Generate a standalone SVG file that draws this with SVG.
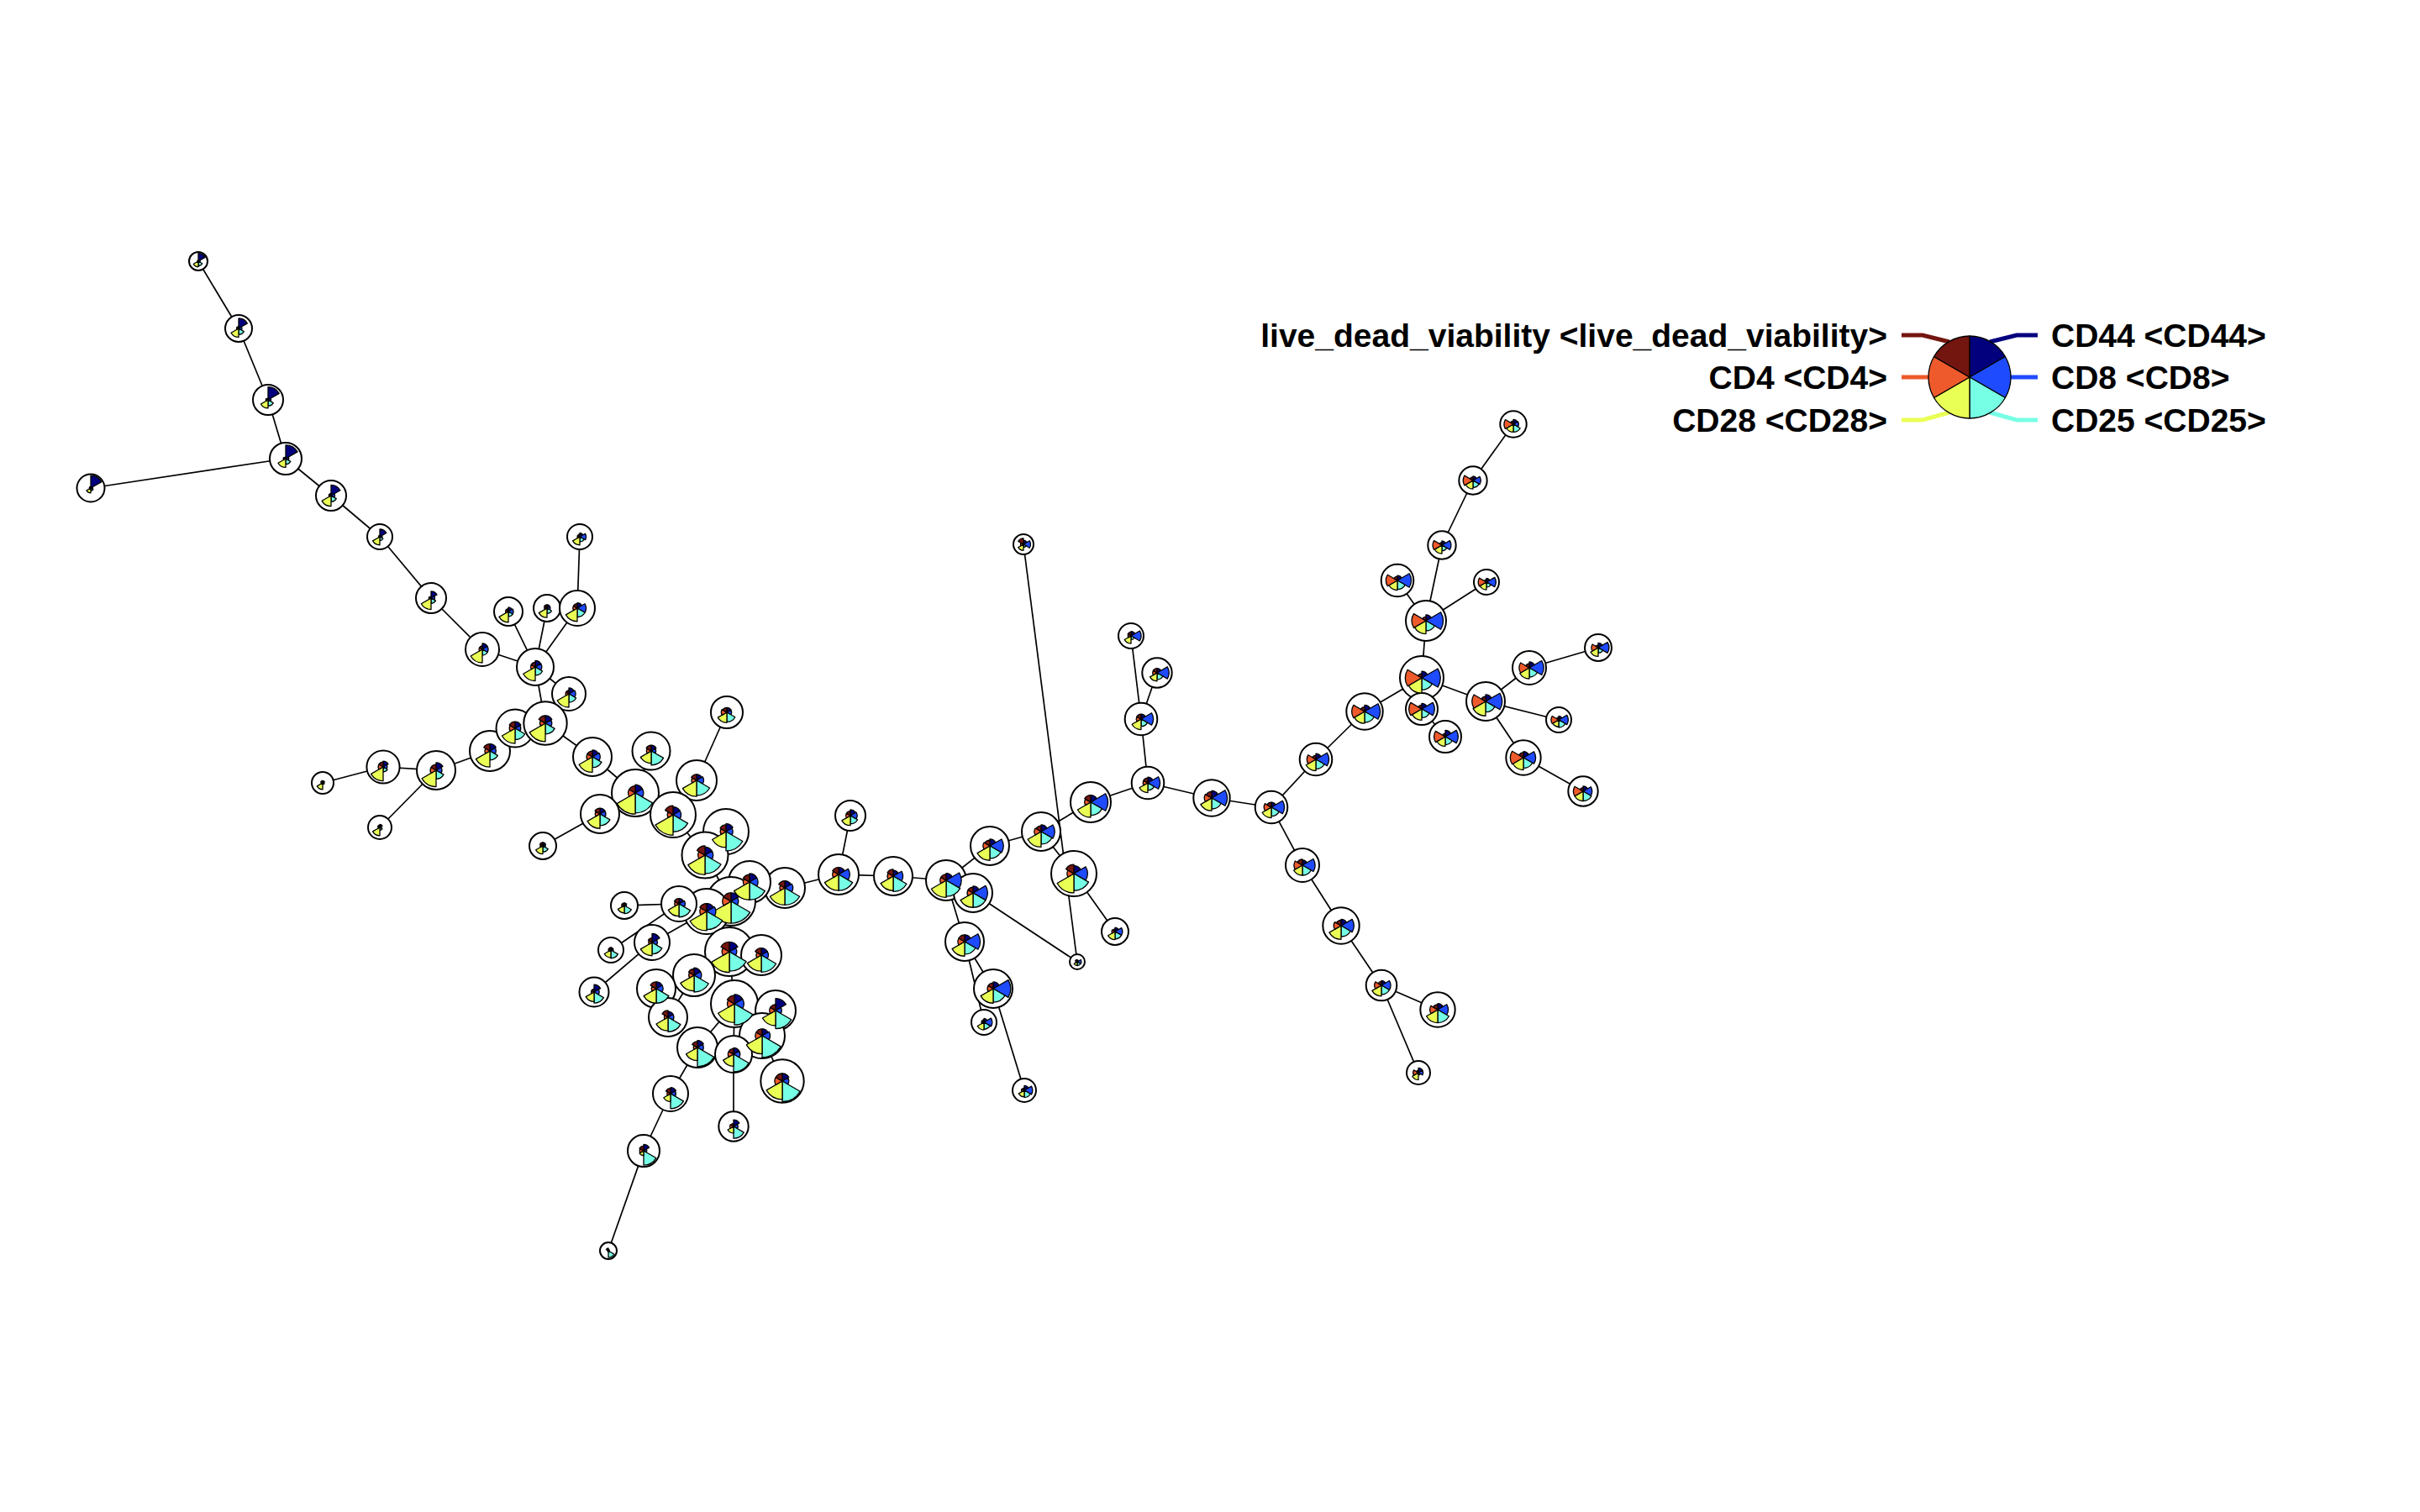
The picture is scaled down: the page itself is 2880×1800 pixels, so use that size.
<svg xmlns="http://www.w3.org/2000/svg" width="2880" height="1800" viewBox="0 0 2880 1800">
<style>
.edge line{stroke:#000;stroke-width:1.7;fill:none}
.bg circle{fill:#fff;stroke:#000;stroke-width:2}
.wd{stroke:#000;stroke-width:1.3;vector-effect:non-scaling-stroke;stroke-linejoin:round}
.c0{fill:#03007E}.c1{fill:#1F4BFF}.c2{fill:#77FFE5}.c3{fill:#EAFF55}.c4{fill:#EE5A2B}.c5{fill:#741610}
.lg{fill:none;stroke-width:5}
.lab{font-family:"Liberation Sans",Arial,sans-serif;font-weight:bold;font-size:39px;fill:#000}
</style>
<defs>
<path id="w0" class="wd c0" d="M0,0 L0,-100 A100,100 0 0 1 86.603,-50 Z"/>
<path id="w1" class="wd c1" d="M0,0 L86.603,-50 A100,100 0 0 1 86.603,50 Z"/>
<path id="w2" class="wd c2" d="M0,0 L86.603,50 A100,100 0 0 1 0,100 Z"/>
<path id="w3" class="wd c3" d="M0,0 L0,100 A100,100 0 0 1 -86.603,50 Z"/>
<path id="w4" class="wd c4" d="M0,0 L-86.603,50 A100,100 0 0 1 -86.603,-50 Z"/>
<path id="w5" class="wd c5" d="M0,0 L-86.603,-50 A100,100 0 0 1 0,-100 Z"/>
</defs>
<rect width="2880" height="1800" fill="#fff"/>
<g id="edges" class="edge">
<line x1="236" y1="311" x2="284" y2="391"/><line x1="284" y1="391" x2="319" y2="476"/><line x1="319" y1="476" x2="340" y2="546"/><line x1="340" y1="546" x2="108" y2="581"/><line x1="340" y1="546" x2="394" y2="590"/><line x1="394" y1="590" x2="452" y2="639"/><line x1="452" y1="639" x2="513" y2="712"/><line x1="513" y1="712" x2="574" y2="773"/><line x1="574" y1="773" x2="637" y2="794"/><line x1="637" y1="794" x2="605" y2="728"/><line x1="637" y1="794" x2="651" y2="724"/><line x1="637" y1="794" x2="687" y2="724"/><line x1="687" y1="724" x2="690" y2="639"/><line x1="637" y1="794" x2="677" y2="826"/><line x1="637" y1="794" x2="649" y2="861"/>
<line x1="384" y1="932" x2="456" y2="913"/><line x1="456" y1="913" x2="519" y2="917"/><line x1="519" y1="917" x2="452" y2="985"/><line x1="519" y1="917" x2="583" y2="894"/><line x1="583" y1="894" x2="613" y2="867"/><line x1="613" y1="867" x2="649" y2="861"/><line x1="649" y1="861" x2="705" y2="901"/><line x1="705" y1="901" x2="756" y2="944"/><line x1="775" y1="894" x2="756" y2="944"/><line x1="756" y1="944" x2="714" y2="969"/><line x1="714" y1="969" x2="646" y2="1007"/><line x1="756" y1="944" x2="801" y2="970"/><line x1="865" y1="848" x2="829" y2="929"/><line x1="829" y1="929" x2="801" y2="970"/><line x1="801" y1="970" x2="839" y2="1018"/><line x1="864" y1="990" x2="839" y2="1018"/><line x1="839" y1="1018" x2="870" y2="1073"/>
<line x1="870" y1="1073" x2="841" y2="1085"/><line x1="870" y1="1073" x2="892" y2="1050"/><line x1="892" y1="1050" x2="934" y2="1057"/><line x1="934" y1="1057" x2="998" y2="1041"/><line x1="1012" y1="971" x2="998" y2="1041"/><line x1="998" y1="1041" x2="1063" y2="1043"/><line x1="841" y1="1085" x2="808" y2="1076"/><line x1="808" y1="1076" x2="743" y2="1078"/><line x1="808" y1="1076" x2="727" y2="1131"/><line x1="841" y1="1085" x2="776" y2="1122"/><line x1="776" y1="1122" x2="707" y2="1181"/><line x1="870" y1="1073" x2="868" y2="1133"/><line x1="868" y1="1133" x2="906" y2="1137"/><line x1="868" y1="1133" x2="826" y2="1161"/><line x1="826" y1="1161" x2="795" y2="1211"/><line x1="781" y1="1177" x2="795" y2="1211"/><line x1="868" y1="1133" x2="874" y2="1195"/><line x1="874" y1="1195" x2="923" y2="1203"/><line x1="923" y1="1203" x2="907" y2="1233"/><line x1="907" y1="1233" x2="931" y2="1287"/><line x1="874" y1="1195" x2="873" y2="1255"/><line x1="873" y1="1255" x2="873" y2="1341"/><line x1="874" y1="1195" x2="830" y2="1247"/><line x1="830" y1="1247" x2="798" y2="1302"/><line x1="798" y1="1302" x2="766" y2="1370"/><line x1="766" y1="1370" x2="724" y2="1489"/>
<line x1="1063" y1="1043" x2="1126" y2="1048"/><line x1="1126" y1="1048" x2="1178" y2="1007"/><line x1="1178" y1="1007" x2="1239" y2="990"/><line x1="1239" y1="990" x2="1298" y2="955"/><line x1="1298" y1="955" x2="1366" y2="932"/><line x1="1366" y1="932" x2="1358" y2="856"/><line x1="1358" y1="856" x2="1346" y2="757"/><line x1="1358" y1="856" x2="1377" y2="801"/><line x1="1366" y1="932" x2="1442" y2="950"/><line x1="1442" y1="950" x2="1513" y2="961"/><line x1="1513" y1="961" x2="1566" y2="904"/><line x1="1513" y1="961" x2="1550" y2="1030"/><line x1="1239" y1="990" x2="1278" y2="1040"/><line x1="1278" y1="1040" x2="1327" y2="1109"/><line x1="1218" y1="648" x2="1282" y2="1145"/><line x1="1158" y1="1063" x2="1282" y2="1145"/><line x1="1126" y1="1048" x2="1158" y2="1063"/><line x1="1126" y1="1048" x2="1148" y2="1121"/><line x1="1148" y1="1121" x2="1182" y2="1177"/><line x1="1148" y1="1121" x2="1171" y2="1217"/><line x1="1182" y1="1177" x2="1219" y2="1298"/>
<line x1="1566" y1="904" x2="1624" y2="847"/><line x1="1624" y1="847" x2="1692" y2="807"/><line x1="1692" y1="807" x2="1697" y2="739"/><line x1="1697" y1="739" x2="1716" y2="649"/><line x1="1697" y1="739" x2="1663" y2="691"/><line x1="1697" y1="739" x2="1769" y2="693"/><line x1="1716" y1="649" x2="1753" y2="572"/><line x1="1753" y1="572" x2="1801" y2="505"/><line x1="1692" y1="807" x2="1692" y2="844"/><line x1="1692" y1="844" x2="1720" y2="877"/><line x1="1692" y1="807" x2="1768" y2="835"/><line x1="1768" y1="835" x2="1820" y2="795"/><line x1="1820" y1="795" x2="1902" y2="771"/><line x1="1768" y1="835" x2="1855" y2="857"/><line x1="1768" y1="835" x2="1813" y2="902"/><line x1="1813" y1="902" x2="1884" y2="942"/>
<line x1="1550" y1="1030" x2="1596" y2="1102"/><line x1="1596" y1="1102" x2="1644" y2="1173"/><line x1="1644" y1="1173" x2="1711" y2="1202"/><line x1="1644" y1="1173" x2="1688" y2="1277"/>
</g>
<g id="node-backgrounds" class="bg">
<circle cx="236" cy="311" r="11"/><circle cx="284" cy="391" r="16"/><circle cx="319" cy="476" r="18"/><circle cx="340" cy="546" r="19"/><circle cx="108" cy="581" r="16.5"/><circle cx="394" cy="590" r="18"/><circle cx="452" cy="639" r="15"/><circle cx="513" cy="712" r="18"/><circle cx="574" cy="773" r="20"/><circle cx="637" cy="794" r="22"/><circle cx="605" cy="728" r="17"/><circle cx="651" cy="724" r="16"/><circle cx="687" cy="724" r="21"/><circle cx="690" cy="639" r="15"/><circle cx="677" cy="826" r="20"/>
<circle cx="384" cy="932" r="13"/><circle cx="456" cy="913" r="19.6"/><circle cx="452" cy="985" r="14"/><circle cx="519" cy="917" r="23"/><circle cx="583" cy="894" r="24"/><circle cx="613" cy="867" r="22.5"/><circle cx="649" cy="861" r="25.7"/><circle cx="705" cy="901" r="23"/><circle cx="775" cy="894" r="22.5"/><circle cx="865" cy="848" r="19"/><circle cx="829" cy="929" r="24"/><circle cx="756" cy="944" r="28"/><circle cx="714" cy="969" r="23"/><circle cx="801" cy="970" r="27"/><circle cx="646" cy="1007" r="16"/><circle cx="864" cy="990" r="27"/><circle cx="839" cy="1018" r="27.5"/>
<circle cx="1012" cy="971" r="18"/><circle cx="998" cy="1041" r="24"/><circle cx="1063" cy="1043" r="23"/><circle cx="934" cy="1057" r="24"/><circle cx="892" cy="1050" r="25"/><circle cx="870" cy="1073" r="29"/><circle cx="841" cy="1085" r="27"/><circle cx="808" cy="1076" r="21"/><circle cx="743" cy="1078" r="16"/><circle cx="727" cy="1131" r="15"/><circle cx="776" cy="1122" r="21"/><circle cx="707" cy="1181" r="17.5"/><circle cx="868" cy="1133" r="29"/><circle cx="906" cy="1137" r="24"/><circle cx="826" cy="1161" r="25"/><circle cx="781" cy="1177" r="23"/><circle cx="874" cy="1195" r="28"/><circle cx="923" cy="1203" r="24"/><circle cx="795" cy="1211" r="23"/><circle cx="907" cy="1233" r="27"/><circle cx="830" cy="1247" r="24"/><circle cx="873" cy="1255" r="22"/><circle cx="931" cy="1287" r="25.7"/><circle cx="798" cy="1302" r="21"/><circle cx="873" cy="1341" r="17.7"/><circle cx="766" cy="1370" r="19"/><circle cx="724" cy="1489" r="10"/>
<circle cx="1218" cy="648" r="12"/><circle cx="1346" cy="757" r="15"/><circle cx="1377" cy="801" r="17.7"/><circle cx="1358" cy="856" r="19.3"/><circle cx="1366" cy="932" r="19.3"/><circle cx="1442" cy="950" r="21.7"/><circle cx="1513" cy="961" r="19.3"/><circle cx="1550" cy="1030" r="20"/><circle cx="1298" cy="955" r="24"/><circle cx="1239" cy="990" r="23"/><circle cx="1178" cy="1007" r="23"/><circle cx="1126" cy="1048" r="24"/><circle cx="1158" cy="1063" r="23"/><circle cx="1278" cy="1040" r="27"/><circle cx="1327" cy="1109" r="16"/><circle cx="1282" cy="1145" r="9"/><circle cx="1148" cy="1121" r="23"/><circle cx="1182" cy="1177" r="23"/><circle cx="1171" cy="1217" r="15"/><circle cx="1219" cy="1298" r="14"/>
<circle cx="1801" cy="505" r="15.7"/><circle cx="1753" cy="572" r="16.7"/><circle cx="1716" cy="649" r="16.7"/><circle cx="1663" cy="691" r="19.3"/><circle cx="1769" cy="693" r="15"/><circle cx="1697" cy="739" r="24"/><circle cx="1692" cy="807" r="26"/><circle cx="1692" cy="844" r="19"/><circle cx="1720" cy="877" r="19"/><circle cx="1624" cy="847" r="21.7"/><circle cx="1566" cy="904" r="19.3"/><circle cx="1768" cy="835" r="23"/><circle cx="1820" cy="795" r="20"/><circle cx="1902" cy="771" r="16"/><circle cx="1855" cy="857" r="15"/><circle cx="1813" cy="902" r="20.7"/><circle cx="1884" cy="942" r="17.7"/><circle cx="1596" cy="1102" r="21.7"/><circle cx="1644" cy="1173" r="18.3"/><circle cx="1711" cy="1202" r="20.7"/><circle cx="1688" cy="1277" r="14"/>
</g>
<g id="nodes">
<g id="n1" transform="translate(236 311) scale(.11)"><use href="#w0" transform="scale(.85)"/><use href="#w1" transform="scale(.2)"/><use href="#w2" transform="scale(.5)"/><use href="#w3" transform="scale(.6)"/><use href="#w4" transform="scale(.1)"/><use href="#w5" transform="scale(.1)"/></g>
<g id="n2" transform="translate(284 391) scale(.16)"><use href="#w0" transform="scale(.75)"/><use href="#w1" transform="scale(.25)"/><use href="#w2" transform="scale(.45)"/><use href="#w3" transform="scale(.65)"/><use href="#w4" transform="scale(.15)"/><use href="#w5" transform="scale(.15)"/></g>
<g id="n3" transform="translate(319 476) scale(.18)"><use href="#w0" transform="scale(.85)"/><use href="#w1" transform="scale(.2)"/><use href="#w2" transform="scale(.4)"/><use href="#w3" transform="scale(.55)"/><use href="#w4" transform="scale(.15)"/><use href="#w5" transform="scale(.1)"/></g>
<g id="n4" transform="translate(340 546) scale(.19)"><use href="#w0" transform="scale(.85)"/><use href="#w1" transform="scale(.2)"/><use href="#w2" transform="scale(.35)"/><use href="#w3" transform="scale(.55)"/><use href="#w4" transform="scale(.15)"/><use href="#w5" transform="scale(.1)"/></g>
<g id="n5" transform="translate(108 581) scale(.165)"><use href="#w0" transform="scale(.9)"/><use href="#w1" transform="scale(.15)"/><use href="#w2" transform="scale(.2)"/><use href="#w3" transform="scale(.35)"/><use href="#w4" transform="scale(.1)"/><use href="#w5" transform="scale(.1)"/></g>
<g id="n6" transform="translate(394 590) scale(.18)"><use href="#w0" transform="scale(.7)"/><use href="#w1" transform="scale(.25)"/><use href="#w2" transform="scale(.4)"/><use href="#w3" transform="scale(.7)"/><use href="#w4" transform="scale(.15)"/><use href="#w5" transform="scale(.15)"/></g>
<g id="n7" transform="translate(452 639) scale(.15)"><use href="#w0" transform="scale(.6)"/><use href="#w1" transform="scale(.2)"/><use href="#w2" transform="scale(.3)"/><use href="#w3" transform="scale(.65)"/><use href="#w4" transform="scale(.1)"/><use href="#w5" transform="scale(.1)"/></g>
<g id="n8" transform="translate(513 712) scale(.18)"><use href="#w0" transform="scale(.45)"/><use href="#w1" transform="scale(.25)"/><use href="#w2" transform="scale(.35)"/><use href="#w3" transform="scale(.75)"/><use href="#w4" transform="scale(.15)"/><use href="#w5" transform="scale(.1)"/></g>
<g id="n9" transform="translate(574 773) scale(.2)"><use href="#w0" transform="scale(.35)"/><use href="#w1" transform="scale(.35)"/><use href="#w2" transform="scale(.35)"/><use href="#w3" transform="scale(.8)"/><use href="#w4" transform="scale(.2)"/><use href="#w5" transform="scale(.2)"/></g>
<g id="n10" transform="translate(637 794) scale(.22)"><use href="#w0" transform="scale(.35)"/><use href="#w1" transform="scale(.35)"/><use href="#w2" transform="scale(.45)"/><use href="#w3" transform="scale(.75)"/><use href="#w4" transform="scale(.25)"/><use href="#w5" transform="scale(.25)"/></g>
<g id="n11" transform="translate(605 728) scale(.17)"><use href="#w0" transform="scale(.3)"/><use href="#w1" transform="scale(.35)"/><use href="#w2" transform="scale(.35)"/><use href="#w3" transform="scale(.75)"/><use href="#w4" transform="scale(.2)"/><use href="#w5" transform="scale(.2)"/></g>
<g id="n12" transform="translate(651 724) scale(.16)"><use href="#w0" transform="scale(.25)"/><use href="#w1" transform="scale(.25)"/><use href="#w2" transform="scale(.4)"/><use href="#w3" transform="scale(.7)"/><use href="#w4" transform="scale(.2)"/><use href="#w5" transform="scale(.25)"/></g>
<g id="n13" transform="translate(687 724) scale(.21)"><use href="#w0" transform="scale(.3)"/><use href="#w1" transform="scale(.5)"/><use href="#w2" transform="scale(.5)"/><use href="#w3" transform="scale(.75)"/><use href="#w4" transform="scale(.25)"/><use href="#w5" transform="scale(.25)"/></g>
<g id="n14" transform="translate(690 639) scale(.15)"><use href="#w0" transform="scale(.3)"/><use href="#w1" transform="scale(.5)"/><use href="#w2" transform="scale(.4)"/><use href="#w3" transform="scale(.65)"/><use href="#w4" transform="scale(.2)"/><use href="#w5" transform="scale(.2)"/></g>
<g id="n15" transform="translate(677 826) scale(.2)"><use href="#w0" transform="scale(.35)"/><use href="#w1" transform="scale(.4)"/><use href="#w2" transform="scale(.5)"/><use href="#w3" transform="scale(.8)"/><use href="#w4" transform="scale(.2)"/><use href="#w5" transform="scale(.2)"/></g>
<g id="na" transform="translate(384 932) scale(.13)"><use href="#w0" transform="scale(.2)"/><use href="#w1" transform="scale(.15)"/><use href="#w2" transform="scale(.15)"/><use href="#w3" transform="scale(.6)"/><use href="#w4" transform="scale(.15)"/><use href="#w5" transform="scale(.2)"/></g>
<g id="nb" transform="translate(456 913) scale(.196)"><use href="#w0" transform="scale(.35)"/><use href="#w1" transform="scale(.25)"/><use href="#w2" transform="scale(.3)"/><use href="#w3" transform="scale(.85)"/><use href="#w4" transform="scale(.3)"/><use href="#w5" transform="scale(.3)"/></g>
<g id="nc" transform="translate(452 985) scale(.14)"><use href="#w0" transform="scale(.25)"/><use href="#w1" transform="scale(.15)"/><use href="#w2" transform="scale(.25)"/><use href="#w3" transform="scale(.7)"/><use href="#w4" transform="scale(.15)"/><use href="#w5" transform="scale(.2)"/></g>
<g id="nd" transform="translate(519 917) scale(.23)"><use href="#w0" transform="scale(.4)"/><use href="#w1" transform="scale(.3)"/><use href="#w2" transform="scale(.45)"/><use href="#w3" transform="scale(.85)"/><use href="#w4" transform="scale(.3)"/><use href="#w5" transform="scale(.3)"/></g>
<g id="ne" transform="translate(583 894) scale(.24)"><use href="#w0" transform="scale(.35)"/><use href="#w1" transform="scale(.3)"/><use href="#w2" transform="scale(.45)"/><use href="#w3" transform="scale(.8)"/><use href="#w4" transform="scale(.25)"/><use href="#w5" transform="scale(.35)"/></g>
<g id="nf" transform="translate(613 867) scale(.225)"><use href="#w0" transform="scale(.35)"/><use href="#w1" transform="scale(.3)"/><use href="#w2" transform="scale(.6)"/><use href="#w3" transform="scale(.8)"/><use href="#w4" transform="scale(.3)"/><use href="#w5" transform="scale(.35)"/></g>
<g id="ng" transform="translate(649 861) scale(.257)"><use href="#w0" transform="scale(.35)"/><use href="#w1" transform="scale(.3)"/><use href="#w2" transform="scale(.5)"/><use href="#w3" transform="scale(.85)"/><use href="#w4" transform="scale(.25)"/><use href="#w5" transform="scale(.35)"/></g>
<g id="ni" transform="translate(705 901) scale(.23)"><use href="#w0" transform="scale(.35)"/><use href="#w1" transform="scale(.4)"/><use href="#w2" transform="scale(.55)"/><use href="#w3" transform="scale(.8)"/><use href="#w4" transform="scale(.3)"/><use href="#w5" transform="scale(.3)"/></g>
<g id="nj" transform="translate(775 894) scale(.225)"><use href="#w0" transform="scale(.3)"/><use href="#w1" transform="scale(.25)"/><use href="#w2" transform="scale(.75)"/><use href="#w3" transform="scale(.65)"/><use href="#w4" transform="scale(.25)"/><use href="#w5" transform="scale(.3)"/></g>
<g id="nk" transform="translate(865 848) scale(.19)"><use href="#w0" transform="scale(.3)"/><use href="#w1" transform="scale(.3)"/><use href="#w2" transform="scale(.6)"/><use href="#w3" transform="scale(.65)"/><use href="#w4" transform="scale(.35)"/><use href="#w5" transform="scale(.3)"/></g>
<g id="nl" transform="translate(829 929) scale(.24)"><use href="#w0" transform="scale(.3)"/><use href="#w1" transform="scale(.35)"/><use href="#w2" transform="scale(.75)"/><use href="#w3" transform="scale(.8)"/><use href="#w4" transform="scale(.25)"/><use href="#w5" transform="scale(.3)"/></g>
<g id="nm" transform="translate(756 944) scale(.28)"><use href="#w0" transform="scale(.35)"/><use href="#w1" transform="scale(.35)"/><use href="#w2" transform="scale(.85)"/><use href="#w3" transform="scale(.9)"/><use href="#w4" transform="scale(.3)"/><use href="#w5" transform="scale(.3)"/></g>
<g id="nn" transform="translate(714 969) scale(.23)"><use href="#w0" transform="scale(.3)"/><use href="#w1" transform="scale(.3)"/><use href="#w2" transform="scale(.6)"/><use href="#w3" transform="scale(.75)"/><use href="#w4" transform="scale(.25)"/><use href="#w5" transform="scale(.3)"/></g>
<g id="no" transform="translate(801 970) scale(.27)"><use href="#w0" transform="scale(.35)"/><use href="#w1" transform="scale(.35)"/><use href="#w2" transform="scale(.75)"/><use href="#w3" transform="scale(.9)"/><use href="#w4" transform="scale(.25)"/><use href="#w5" transform="scale(.4)"/></g>
<g id="np" transform="translate(646 1007) scale(.16)"><use href="#w0" transform="scale(.25)"/><use href="#w1" transform="scale(.2)"/><use href="#w2" transform="scale(.45)"/><use href="#w3" transform="scale(.6)"/><use href="#w4" transform="scale(.2)"/><use href="#w5" transform="scale(.25)"/></g>
<g id="nq" transform="translate(864 990) scale(.27)"><use href="#w0" transform="scale(.35)"/><use href="#w1" transform="scale(.3)"/><use href="#w2" transform="scale(.85)"/><use href="#w3" transform="scale(.7)"/><use href="#w4" transform="scale(.25)"/><use href="#w5" transform="scale(.3)"/></g>
<g id="nr" transform="translate(839 1018) scale(.275)"><use href="#w0" transform="scale(.35)"/><use href="#w1" transform="scale(.35)"/><use href="#w2" transform="scale(.8)"/><use href="#w3" transform="scale(.85)"/><use href="#w4" transform="scale(.3)"/><use href="#w5" transform="scale(.4)"/></g>
<g id="ns" transform="translate(1012 971) scale(.18)"><use href="#w0" transform="scale(.4)"/><use href="#w1" transform="scale(.45)"/><use href="#w2" transform="scale(.55)"/><use href="#w3" transform="scale(.65)"/><use href="#w4" transform="scale(.3)"/><use href="#w5" transform="scale(.3)"/></g>
<g id="nt" transform="translate(998 1041) scale(.24)"><use href="#w0" transform="scale(.35)"/><use href="#w1" transform="scale(.55)"/><use href="#w2" transform="scale(.8)"/><use href="#w3" transform="scale(.8)"/><use href="#w4" transform="scale(.3)"/><use href="#w5" transform="scale(.35)"/></g>
<g id="nu" transform="translate(1063 1043) scale(.23)"><use href="#w0" transform="scale(.3)"/><use href="#w1" transform="scale(.5)"/><use href="#w2" transform="scale(.8)"/><use href="#w3" transform="scale(.75)"/><use href="#w4" transform="scale(.3)"/><use href="#w5" transform="scale(.35)"/></g>
<g id="nv" transform="translate(934 1057) scale(.24)"><use href="#w0" transform="scale(.35)"/><use href="#w1" transform="scale(.4)"/><use href="#w2" transform="scale(.85)"/><use href="#w3" transform="scale(.85)"/><use href="#w4" transform="scale(.25)"/><use href="#w5" transform="scale(.35)"/></g>
<g id="nw" transform="translate(892 1050) scale(.25)"><use href="#w0" transform="scale(.4)"/><use href="#w1" transform="scale(.4)"/><use href="#w2" transform="scale(.85)"/><use href="#w3" transform="scale(.85)"/><use href="#w4" transform="scale(.3)"/><use href="#w5" transform="scale(.35)"/></g>
<g id="nx" transform="translate(870 1073) scale(.29)"><use href="#w0" transform="scale(.35)"/><use href="#w1" transform="scale(.3)"/><use href="#w2" transform="scale(.9)"/><use href="#w3" transform="scale(.9)"/><use href="#w4" transform="scale(.35)"/><use href="#w5" transform="scale(.35)"/></g>
<g id="ny" transform="translate(841 1085) scale(.27)"><use href="#w0" transform="scale(.35)"/><use href="#w1" transform="scale(.4)"/><use href="#w2" transform="scale(.8)"/><use href="#w3" transform="scale(.85)"/><use href="#w4" transform="scale(.3)"/><use href="#w5" transform="scale(.35)"/></g>
<g id="nz" transform="translate(808 1076) scale(.21)"><use href="#w0" transform="scale(.3)"/><use href="#w1" transform="scale(.35)"/><use href="#w2" transform="scale(.75)"/><use href="#w3" transform="scale(.7)"/><use href="#w4" transform="scale(.25)"/><use href="#w5" transform="scale(.3)"/></g>
<g id="naa" transform="translate(743 1078) scale(.16)"><use href="#w0" transform="scale(.2)"/><use href="#w1" transform="scale(.15)"/><use href="#w2" transform="scale(.6)"/><use href="#w3" transform="scale(.55)"/><use href="#w4" transform="scale(.2)"/><use href="#w5" transform="scale(.2)"/></g>
<g id="nbb" transform="translate(727 1131) scale(.15)"><use href="#w0" transform="scale(.2)"/><use href="#w1" transform="scale(.2)"/><use href="#w2" transform="scale(.65)"/><use href="#w3" transform="scale(.6)"/><use href="#w4" transform="scale(.2)"/><use href="#w5" transform="scale(.2)"/></g>
<g id="ncc" transform="translate(776 1122) scale(.21)"><use href="#w0" transform="scale(.5)"/><use href="#w1" transform="scale(.3)"/><use href="#w2" transform="scale(.65)"/><use href="#w3" transform="scale(.75)"/><use href="#w4" transform="scale(.2)"/><use href="#w5" transform="scale(.25)"/></g>
<g id="ndd" transform="translate(707 1181) scale(.175)"><use href="#w0" transform="scale(.5)"/><use href="#w1" transform="scale(.35)"/><use href="#w2" transform="scale(.75)"/><use href="#w3" transform="scale(.65)"/><use href="#w4" transform="scale(.2)"/><use href="#w5" transform="scale(.2)"/></g>
<g id="nee" transform="translate(868 1133) scale(.29)"><use href="#w0" transform="scale(.4)"/><use href="#w1" transform="scale(.3)"/><use href="#w2" transform="scale(.8)"/><use href="#w3" transform="scale(.85)"/><use href="#w4" transform="scale(.3)"/><use href="#w5" transform="scale(.4)"/></g>
<g id="nff" transform="translate(906 1137) scale(.24)"><use href="#w0" transform="scale(.35)"/><use href="#w1" transform="scale(.35)"/><use href="#w2" transform="scale(.85)"/><use href="#w3" transform="scale(.8)"/><use href="#w4" transform="scale(.25)"/><use href="#w5" transform="scale(.35)"/></g>
<g id="ngg" transform="translate(826 1161) scale(.25)"><use href="#w0" transform="scale(.35)"/><use href="#w1" transform="scale(.35)"/><use href="#w2" transform="scale(.8)"/><use href="#w3" transform="scale(.75)"/><use href="#w4" transform="scale(.25)"/><use href="#w5" transform="scale(.3)"/></g>
<g id="nhh" transform="translate(781 1177) scale(.23)"><use href="#w0" transform="scale(.35)"/><use href="#w1" transform="scale(.35)"/><use href="#w2" transform="scale(.75)"/><use href="#w3" transform="scale(.75)"/><use href="#w4" transform="scale(.25)"/><use href="#w5" transform="scale(.35)"/></g>
<g id="nii" transform="translate(874 1195) scale(.28)"><use href="#w0" transform="scale(.4)"/><use href="#w1" transform="scale(.4)"/><use href="#w2" transform="scale(.9)"/><use href="#w3" transform="scale(.8)"/><use href="#w4" transform="scale(.3)"/><use href="#w5" transform="scale(.35)"/></g>
<g id="njj" transform="translate(923 1203) scale(.24)"><use href="#w0" transform="scale(.6)"/><use href="#w1" transform="scale(.3)"/><use href="#w2" transform="scale(.9)"/><use href="#w3" transform="scale(.75)"/><use href="#w4" transform="scale(.3)"/><use href="#w5" transform="scale(.3)"/></g>
<g id="nkk" transform="translate(795 1211) scale(.23)"><use href="#w0" transform="scale(.3)"/><use href="#w1" transform="scale(.3)"/><use href="#w2" transform="scale(.75)"/><use href="#w3" transform="scale(.7)"/><use href="#w4" transform="scale(.2)"/><use href="#w5" transform="scale(.35)"/></g>
<g id="nll" transform="translate(907 1233) scale(.27)"><use href="#w0" transform="scale(.3)"/><use href="#w1" transform="scale(.35)"/><use href="#w2" transform="scale(.95)"/><use href="#w3" transform="scale(.8)"/><use href="#w4" transform="scale(.3)"/><use href="#w5" transform="scale(.3)"/></g>
<g id="nmm" transform="translate(830 1247) scale(.24)"><use href="#w0" transform="scale(.35)"/><use href="#w1" transform="scale(.3)"/><use href="#w2" transform="scale(.95)"/><use href="#w3" transform="scale(.65)"/><use href="#w4" transform="scale(.2)"/><use href="#w5" transform="scale(.3)"/></g>
<g id="nnn" transform="translate(873 1255) scale(.22)"><use href="#w0" transform="scale(.35)"/><use href="#w1" transform="scale(.35)"/><use href="#w2" transform="scale(.95)"/><use href="#w3" transform="scale(.65)"/><use href="#w4" transform="scale(.3)"/><use href="#w5" transform="scale(.3)"/></g>
<g id="noo" transform="translate(931 1287) scale(.257)"><use href="#w0" transform="scale(.35)"/><use href="#w1" transform="scale(.3)"/><use href="#w2" transform="scale(.95)"/><use href="#w3" transform="scale(.85)"/><use href="#w4" transform="scale(.35)"/><use href="#w5" transform="scale(.35)"/></g>
<g id="npp" transform="translate(798 1302) scale(.21)"><use href="#w0" transform="scale(.35)"/><use href="#w1" transform="scale(.3)"/><use href="#w2" transform="scale(.85)"/><use href="#w3" transform="scale(.45)"/><use href="#w4" transform="scale(.2)"/><use href="#w5" transform="scale(.3)"/></g>
<g id="nqq" transform="translate(873 1341) scale(.177)"><use href="#w0" transform="scale(.45)"/><use href="#w1" transform="scale(.3)"/><use href="#w2" transform="scale(.8)"/><use href="#w3" transform="scale(.45)"/><use href="#w4" transform="scale(.25)"/><use href="#w5" transform="scale(.2)"/></g>
<g id="nrr" transform="translate(766 1370) scale(.19)"><use href="#w0" transform="scale(.4)"/><use href="#w1" transform="scale(.2)"/><use href="#w2" transform="scale(.9)"/><use href="#w3" transform="scale(.3)"/><use href="#w4" transform="scale(.25)"/><use href="#w5" transform="scale(.3)"/></g>
<g id="nss" transform="translate(724 1489) scale(.1)"><use href="#w0" transform="scale(.15)"/><use href="#w1" transform="scale(.1)"/><use href="#w2" transform="scale(.8)"/><use href="#w3" transform="scale(.1)"/><use href="#w4" transform="scale(.1)"/><use href="#w5" transform="scale(.3)"/></g>
<g id="nA1" transform="translate(1218 648) scale(.12)"><use href="#w0" transform="scale(.4)"/><use href="#w1" transform="scale(.7)"/><use href="#w2" transform="scale(.3)"/><use href="#w3" transform="scale(.6)"/><use href="#w4" transform="scale(.3)"/><use href="#w5" transform="scale(.6)"/></g>
<g id="nA2" transform="translate(1346 757) scale(.15)"><use href="#w0" transform="scale(.35)"/><use href="#w1" transform="scale(.8)"/><use href="#w2" transform="scale(.3)"/><use href="#w3" transform="scale(.6)"/><use href="#w4" transform="scale(.25)"/><use href="#w5" transform="scale(.3)"/></g>
<g id="nA3" transform="translate(1377 801) scale(.177)"><use href="#w0" transform="scale(.3)"/><use href="#w1" transform="scale(.8)"/><use href="#w2" transform="scale(.45)"/><use href="#w3" transform="scale(.55)"/><use href="#w4" transform="scale(.3)"/><use href="#w5" transform="scale(.3)"/></g>
<g id="nA4" transform="translate(1358 856) scale(.193)"><use href="#w0" transform="scale(.3)"/><use href="#w1" transform="scale(.75)"/><use href="#w2" transform="scale(.45)"/><use href="#w3" transform="scale(.65)"/><use href="#w4" transform="scale(.3)"/><use href="#w5" transform="scale(.3)"/></g>
<g id="nA5" transform="translate(1366 932) scale(.193)"><use href="#w0" transform="scale(.35)"/><use href="#w1" transform="scale(.75)"/><use href="#w2" transform="scale(.45)"/><use href="#w3" transform="scale(.6)"/><use href="#w4" transform="scale(.3)"/><use href="#w5" transform="scale(.3)"/></g>
<g id="nA6" transform="translate(1442 950) scale(.217)"><use href="#w0" transform="scale(.4)"/><use href="#w1" transform="scale(.85)"/><use href="#w2" transform="scale(.6)"/><use href="#w3" transform="scale(.7)"/><use href="#w4" transform="scale(.4)"/><use href="#w5" transform="scale(.35)"/></g>
<g id="nA7" transform="translate(1513 961) scale(.193)"><use href="#w0" transform="scale(.3)"/><use href="#w1" transform="scale(.8)"/><use href="#w2" transform="scale(.55)"/><use href="#w3" transform="scale(.65)"/><use href="#w4" transform="scale(.45)"/><use href="#w5" transform="scale(.3)"/></g>
<g id="nA9" transform="translate(1550 1030) scale(.2)"><use href="#w0" transform="scale(.3)"/><use href="#w1" transform="scale(.75)"/><use href="#w2" transform="scale(.6)"/><use href="#w3" transform="scale(.6)"/><use href="#w4" transform="scale(.5)"/><use href="#w5" transform="scale(.35)"/></g>
<g id="nA10" transform="translate(1298 955) scale(.24)"><use href="#w0" transform="scale(.35)"/><use href="#w1" transform="scale(.85)"/><use href="#w2" transform="scale(.65)"/><use href="#w3" transform="scale(.75)"/><use href="#w4" transform="scale(.3)"/><use href="#w5" transform="scale(.35)"/></g>
<g id="nA11" transform="translate(1239 990) scale(.23)"><use href="#w0" transform="scale(.35)"/><use href="#w1" transform="scale(.7)"/><use href="#w2" transform="scale(.65)"/><use href="#w3" transform="scale(.8)"/><use href="#w4" transform="scale(.35)"/><use href="#w5" transform="scale(.3)"/></g>
<g id="nA12" transform="translate(1178 1007) scale(.23)"><use href="#w0" transform="scale(.35)"/><use href="#w1" transform="scale(.7)"/><use href="#w2" transform="scale(.65)"/><use href="#w3" transform="scale(.75)"/><use href="#w4" transform="scale(.35)"/><use href="#w5" transform="scale(.3)"/></g>
<g id="nA13" transform="translate(1126 1048) scale(.24)"><use href="#w0" transform="scale(.35)"/><use href="#w1" transform="scale(.75)"/><use href="#w2" transform="scale(.8)"/><use href="#w3" transform="scale(.85)"/><use href="#w4" transform="scale(.3)"/><use href="#w5" transform="scale(.3)"/></g>
<g id="nA14" transform="translate(1158 1063) scale(.23)"><use href="#w0" transform="scale(.35)"/><use href="#w1" transform="scale(.75)"/><use href="#w2" transform="scale(.75)"/><use href="#w3" transform="scale(.75)"/><use href="#w4" transform="scale(.3)"/><use href="#w5" transform="scale(.3)"/></g>
<g id="nA15" transform="translate(1278 1040) scale(.27)"><use href="#w0" transform="scale(.35)"/><use href="#w1" transform="scale(.6)"/><use href="#w2" transform="scale(.75)"/><use href="#w3" transform="scale(.85)"/><use href="#w4" transform="scale(.3)"/><use href="#w5" transform="scale(.4)"/></g>
<g id="nA16" transform="translate(1327 1109) scale(.16)"><use href="#w0" transform="scale(.3)"/><use href="#w1" transform="scale(.55)"/><use href="#w2" transform="scale(.55)"/><use href="#w3" transform="scale(.6)"/><use href="#w4" transform="scale(.25)"/><use href="#w5" transform="scale(.2)"/></g>
<g id="nA17" transform="translate(1282 1145) scale(.09)"><use href="#w0" transform="scale(.2)"/><use href="#w1" transform="scale(.55)"/><use href="#w2" transform="scale(.5)"/><use href="#w3" transform="scale(.5)"/><use href="#w4" transform="scale(.2)"/><use href="#w5" transform="scale(.3)"/></g>
<g id="nA18" transform="translate(1148 1121) scale(.23)"><use href="#w0" transform="scale(.35)"/><use href="#w1" transform="scale(.8)"/><use href="#w2" transform="scale(.65)"/><use href="#w3" transform="scale(.75)"/><use href="#w4" transform="scale(.35)"/><use href="#w5" transform="scale(.35)"/></g>
<g id="nA19" transform="translate(1182 1177) scale(.23)"><use href="#w0" transform="scale(.35)"/><use href="#w1" transform="scale(.9)"/><use href="#w2" transform="scale(.7)"/><use href="#w3" transform="scale(.75)"/><use href="#w4" transform="scale(.3)"/><use href="#w5" transform="scale(.3)"/></g>
<g id="nA20" transform="translate(1171 1217) scale(.15)"><use href="#w0" transform="scale(.3)"/><use href="#w1" transform="scale(.65)"/><use href="#w2" transform="scale(.55)"/><use href="#w3" transform="scale(.6)"/><use href="#w4" transform="scale(.2)"/><use href="#w5" transform="scale(.2)"/></g>
<g id="nA21" transform="translate(1219 1298) scale(.14)"><use href="#w0" transform="scale(.4)"/><use href="#w1" transform="scale(.7)"/><use href="#w2" transform="scale(.6)"/><use href="#w3" transform="scale(.55)"/><use href="#w4" transform="scale(.25)"/><use href="#w5" transform="scale(.2)"/></g>
<g id="nB1" transform="translate(1801 505) scale(.157)"><use href="#w0" transform="scale(.35)"/><use href="#w1" transform="scale(.4)"/><use href="#w2" transform="scale(.6)"/><use href="#w3" transform="scale(.6)"/><use href="#w4" transform="scale(.7)"/><use href="#w5" transform="scale(.25)"/></g>
<g id="nB2" transform="translate(1753 572) scale(.167)"><use href="#w0" transform="scale(.3)"/><use href="#w1" transform="scale(.55)"/><use href="#w2" transform="scale(.5)"/><use href="#w3" transform="scale(.6)"/><use href="#w4" transform="scale(.7)"/><use href="#w5" transform="scale(.25)"/></g>
<g id="nB3" transform="translate(1716 649) scale(.167)"><use href="#w0" transform="scale(.3)"/><use href="#w1" transform="scale(.65)"/><use href="#w2" transform="scale(.4)"/><use href="#w3" transform="scale(.6)"/><use href="#w4" transform="scale(.65)"/><use href="#w5" transform="scale(.2)"/></g>
<g id="nB4" transform="translate(1663 691) scale(.193)"><use href="#w0" transform="scale(.3)"/><use href="#w1" transform="scale(.85)"/><use href="#w2" transform="scale(.55)"/><use href="#w3" transform="scale(.6)"/><use href="#w4" transform="scale(.7)"/><use href="#w5" transform="scale(.25)"/></g>
<g id="nB5" transform="translate(1769 693) scale(.15)"><use href="#w0" transform="scale(.3)"/><use href="#w1" transform="scale(.75)"/><use href="#w2" transform="scale(.4)"/><use href="#w3" transform="scale(.6)"/><use href="#w4" transform="scale(.65)"/><use href="#w5" transform="scale(.2)"/></g>
<g id="nB6" transform="translate(1697 739) scale(.24)"><use href="#w0" transform="scale(.3)"/><use href="#w1" transform="scale(.85)"/><use href="#w2" transform="scale(.5)"/><use href="#w3" transform="scale(.65)"/><use href="#w4" transform="scale(.7)"/><use href="#w5" transform="scale(.2)"/></g>
<g id="nB7" transform="translate(1692 807) scale(.26)"><use href="#w0" transform="scale(.3)"/><use href="#w1" transform="scale(.85)"/><use href="#w2" transform="scale(.55)"/><use href="#w3" transform="scale(.7)"/><use href="#w4" transform="scale(.75)"/><use href="#w5" transform="scale(.2)"/></g>
<g id="nB8" transform="translate(1692 844) scale(.19)"><use href="#w0" transform="scale(.35)"/><use href="#w1" transform="scale(.8)"/><use href="#w2" transform="scale(.55)"/><use href="#w3" transform="scale(.7)"/><use href="#w4" transform="scale(.8)"/><use href="#w5" transform="scale(.25)"/></g>
<g id="nB9" transform="translate(1720 877) scale(.19)"><use href="#w0" transform="scale(.4)"/><use href="#w1" transform="scale(.8)"/><use href="#w2" transform="scale(.5)"/><use href="#w3" transform="scale(.6)"/><use href="#w4" transform="scale(.7)"/><use href="#w5" transform="scale(.2)"/></g>
<g id="nB10" transform="translate(1624 847) scale(.217)"><use href="#w0" transform="scale(.35)"/><use href="#w1" transform="scale(.85)"/><use href="#w2" transform="scale(.6)"/><use href="#w3" transform="scale(.65)"/><use href="#w4" transform="scale(.7)"/><use href="#w5" transform="scale(.25)"/></g>
<g id="nB11" transform="translate(1566 904) scale(.193)"><use href="#w0" transform="scale(.35)"/><use href="#w1" transform="scale(.8)"/><use href="#w2" transform="scale(.6)"/><use href="#w3" transform="scale(.7)"/><use href="#w4" transform="scale(.55)"/><use href="#w5" transform="scale(.25)"/></g>
<g id="nB13" transform="translate(1768 835) scale(.23)"><use href="#w0" transform="scale(.35)"/><use href="#w1" transform="scale(.85)"/><use href="#w2" transform="scale(.55)"/><use href="#w3" transform="scale(.75)"/><use href="#w4" transform="scale(.7)"/><use href="#w5" transform="scale(.25)"/></g>
<g id="nB14" transform="translate(1820 795) scale(.2)"><use href="#w0" transform="scale(.35)"/><use href="#w1" transform="scale(.85)"/><use href="#w2" transform="scale(.55)"/><use href="#w3" transform="scale(.65)"/><use href="#w4" transform="scale(.6)"/><use href="#w5" transform="scale(.25)"/></g>
<g id="nB15" transform="translate(1902 771) scale(.16)"><use href="#w0" transform="scale(.35)"/><use href="#w1" transform="scale(.8)"/><use href="#w2" transform="scale(.4)"/><use href="#w3" transform="scale(.65)"/><use href="#w4" transform="scale(.5)"/><use href="#w5" transform="scale(.2)"/></g>
<g id="nB16" transform="translate(1855 857) scale(.15)"><use href="#w0" transform="scale(.3)"/><use href="#w1" transform="scale(.75)"/><use href="#w2" transform="scale(.6)"/><use href="#w3" transform="scale(.55)"/><use href="#w4" transform="scale(.6)"/><use href="#w5" transform="scale(.2)"/></g>
<g id="nB17" transform="translate(1813 902) scale(.207)"><use href="#w0" transform="scale(.35)"/><use href="#w1" transform="scale(.7)"/><use href="#w2" transform="scale(.6)"/><use href="#w3" transform="scale(.7)"/><use href="#w4" transform="scale(.75)"/><use href="#w5" transform="scale(.3)"/></g>
<g id="nB18" transform="translate(1884 942) scale(.177)"><use href="#w0" transform="scale(.35)"/><use href="#w1" transform="scale(.6)"/><use href="#w2" transform="scale(.65)"/><use href="#w3" transform="scale(.65)"/><use href="#w4" transform="scale(.65)"/><use href="#w5" transform="scale(.25)"/></g>
<g id="nC2" transform="translate(1596 1102) scale(.217)"><use href="#w0" transform="scale(.35)"/><use href="#w1" transform="scale(.7)"/><use href="#w2" transform="scale(.6)"/><use href="#w3" transform="scale(.75)"/><use href="#w4" transform="scale(.4)"/><use href="#w5" transform="scale(.3)"/></g>
<g id="nC3" transform="translate(1644 1173) scale(.183)"><use href="#w0" transform="scale(.3)"/><use href="#w1" transform="scale(.6)"/><use href="#w2" transform="scale(.6)"/><use href="#w3" transform="scale(.7)"/><use href="#w4" transform="scale(.45)"/><use href="#w5" transform="scale(.25)"/></g>
<g id="nC4" transform="translate(1711 1202) scale(.207)"><use href="#w0" transform="scale(.35)"/><use href="#w1" transform="scale(.6)"/><use href="#w2" transform="scale(.75)"/><use href="#w3" transform="scale(.75)"/><use href="#w4" transform="scale(.45)"/><use href="#w5" transform="scale(.3)"/></g>
<g id="nC5" transform="translate(1688 1277) scale(.14)"><use href="#w0" transform="scale(.4)"/><use href="#w1" transform="scale(.4)"/><use href="#w2" transform="scale(.2)"/><use href="#w3" transform="scale(.6)"/><use href="#w4" transform="scale(.45)"/><use href="#w5" transform="scale(.2)"/></g>
</g>
<g id="legend">
<polyline class="lg" stroke="#741610" points="2263,399 2288,399 2320,407"/>
<polyline class="lg" stroke="#EE5A2B" points="2263,449 2296,449"/>
<polyline class="lg" stroke="#EAFF55" points="2263,500 2288,500 2320,491"/>
<polyline class="lg" stroke="#03007E" points="2368,407 2400,399 2425,399"/>
<polyline class="lg" stroke="#1F4BFF" points="2392,449 2425,449"/>
<polyline class="lg" stroke="#77FFE5" points="2368,491 2400,500 2425,500"/>
<g transform="translate(2344 449) scale(.49)"><use href="#w0"/><use href="#w1"/><use href="#w2"/><use href="#w3"/><use href="#w4"/><use href="#w5"/></g>
<text class="lab" x="2246" y="413" text-anchor="end">live_dead_viability &lt;live_dead_viability&gt;</text>
<text class="lab" x="2246" y="463" text-anchor="end">CD4 &lt;CD4&gt;</text>
<text class="lab" x="2246" y="514" text-anchor="end">CD28 &lt;CD28&gt;</text>
<text class="lab" x="2441" y="413">CD44 &lt;CD44&gt;</text>
<text class="lab" x="2441" y="463">CD8 &lt;CD8&gt;</text>
<text class="lab" x="2441" y="514">CD25 &lt;CD25&gt;</text>
</g>
</svg>
